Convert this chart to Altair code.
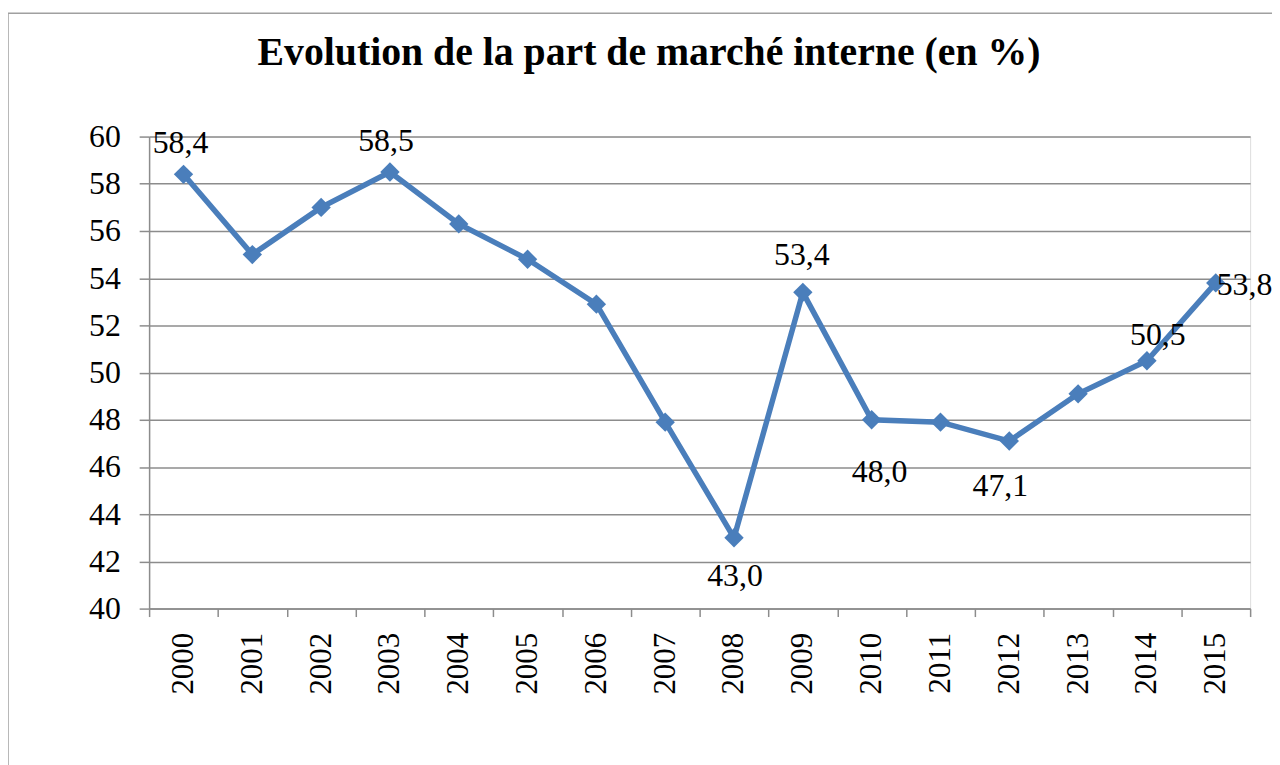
import altair as alt
import pandas as pd

years = [str(y) for y in range(2000, 2016)]
values = [58.4, 55.0, 57.0, 58.5, 56.3, 54.8, 52.9, 47.9, 43.0, 53.4, 48.0, 47.9, 47.1, 49.1, 50.5, 53.8]

# label placement offsets (style, not data): dx, dy, align
label_offsets = {
    "2000": (-3, -21, "center"),
    "2003": (-4, -21, "center"),
    "2008": (1, 49, "center"),
    "2009": (-1, -28, "center"),
    "2010": (8, 63, "center"),
    "2012": (-9, 55, "center"),
    "2014": (11, -16, "center"),
    "2015": (1, 12, "left"),
}

df = pd.DataFrame({"year": years, "value": values})
df["label"] = [f"{v:.1f}".replace(".", ",") for v in values]

FONT = "Liberation Serif"
BLUE = "#4A7EBB"
GRAY = "#8C8C8C"

W, H = 1108, 475

x_enc = alt.X(
    "year:O",
    bandPosition=0.5,
    scale=alt.Scale(type="band", paddingInner=0, paddingOuter=0),
    axis=alt.Axis(
        title=None, tickBand="extent", labelAngle=270, labelAlign="right",
        labelBaseline="middle", labelPadding=16, tickSize=8, grid=False,
        labelFont=FONT, labelFontSize=31, labelColor="black",
        domainColor=GRAY, tickColor=GRAY, domainWidth=1.5, tickWidth=1.5,
    ),
)
y_enc = alt.Y(
    "value:Q",
    scale=alt.Scale(domain=[40, 60], nice=False, zero=False),
    axis=alt.Axis(
        title=None, values=list(range(40, 62, 2)), tickSize=10, labelPadding=19,
        labelFont=FONT, labelFontSize=32, labelColor="black",
        grid=True, gridColor=GRAY, gridWidth=1.5,
        domainColor=GRAY, tickColor=GRAY, domainWidth=1.5, tickWidth=1.5,
    ),
)

base = alt.Chart(df)
line = base.mark_line(color=BLUE, strokeWidth=5.5).encode(x=x_enc, y=y_enc)
pts = base.mark_point(shape="diamond", filled=True, size=380, color=BLUE, opacity=1).encode(x=x_enc, y=y_enc)

layers = [line, pts]
for yr, (dx, dy, align) in label_offsets.items():
    layers.append(
        base.transform_filter(alt.datum.year == yr)
        .mark_text(font=FONT, fontSize=32, color="black", dx=dx, dy=dy, align=align, baseline="alphabetic")
        .encode(x=x_enc, y=y_enc, text="label:N")
    )

border = alt.Chart(pd.DataFrame({"a": [0]})).mark_rect(
    fill=None, stroke="#A0A0A0", strokeWidth=1.5
).encode(
    x=alt.value(-142), x2=alt.value(1140), y=alt.value(-124), y2=alt.value(700)
)

chart = alt.layer(border, *layers).properties(
    width=W, height=H,
    title=alt.TitleParams(
        "Evolution de la part de marché interne (en %)",
        font=FONT, fontSize=40, fontWeight="bold", color="black",
        anchor="middle", frame="group", dx=-51, offset=-93, baseline="alphabetic",
    ),
    autosize=alt.AutoSizeParams(type="none"),
    padding={"left": 142, "top": 127, "right": 22, "bottom": 155},
).configure_view(stroke=None).configure(background="white")

chart.save("out.html", embed_options={"renderer": "svg", "actions": False})
